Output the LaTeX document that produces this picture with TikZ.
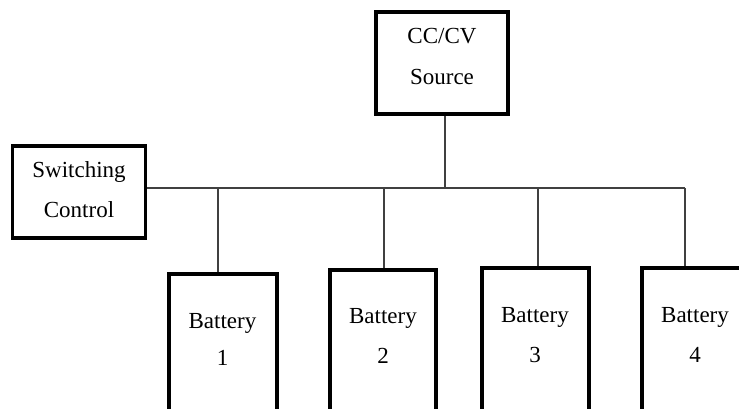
\documentclass[tikz,border=0pt]{standalone}
\usepackage{fontspec}
\setmainfont{Liberation Serif}
\begin{document}
\begin{tikzpicture}[x=1pt,y=-1pt,
  box/.style={draw=black,line width=3.3pt,inner sep=0pt,fill=white},
  lbl/.style={anchor=base,inner sep=0pt,font=\fontsize{23}{27}\selectfont},
  wire/.style={draw=black!75,line width=1.3pt}]
\useasboundingbox (0,0) rectangle (739,409);
\clip (0,0) rectangle (739,409);
% boxes
\node[box,minimum width=132pt,minimum height=102pt] (src) at (442,63) {};
\node[box,minimum width=133pt,minimum height=92pt] (sc) at (79,192) {};
\node[box,minimum width=108pt,minimum height=170pt] (b1) at (223,359) {};
\node[box,minimum width=106pt,minimum height=170pt] (b2) at (383,355) {};
\node[box,minimum width=107pt,minimum height=170pt] (b3) at (535.5,353) {};
\node[box,minimum width=107pt,minimum height=170pt] (b4) at (695.5,353) {};
% labels
\node[lbl] (t1) at (442,44) {CC/CV};
\node[lbl] (t2) at (442,85) {Source};
\node[lbl] (t3) at (79,177) {Switching};
\node[lbl] (t4) at (79,217) {Control};
\node[lbl] (t5) at (222.5,328) {Battery};
\node[lbl] (t6) at (222.5,365) {1};
\node[lbl] (t7) at (383,323) {Battery};
\node[lbl] (t8) at (383,363) {2};
\node[lbl] (t9) at (535,322) {Battery};
\node[lbl] (t10) at (535,362) {3};
\node[lbl] (t11) at (695,322) {Battery};
\node[lbl] (t12) at (695,362) {4};
% junctions
\coordinate (j0) at (445,188);
\coordinate (j1) at (218,188);
\coordinate (j2) at (384,188);
\coordinate (j3) at (538,188);
\coordinate (j4) at (685,188);
% wires
\draw[wire] (sc.east |- j0) -- (j4);
\draw[wire] (src.south -| j0) -- (j0);
\draw[wire] (j1) -- (j1 |- b1.north);
\draw[wire] (j2) -- (j2 |- b2.north);
\draw[wire] (j3) -- (j3 |- b3.north);
\draw[wire] (j4) -- (j4 |- b4.north);
\end{tikzpicture}
\end{document}
